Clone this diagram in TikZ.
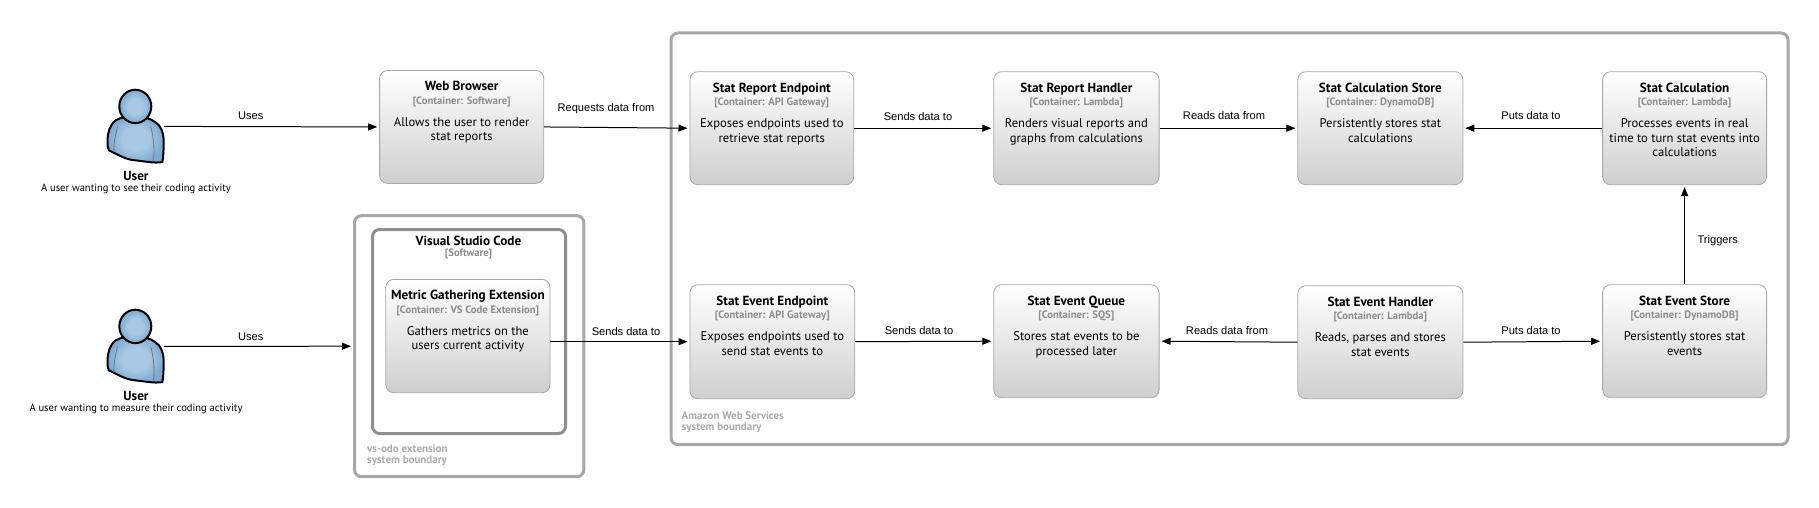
\documentclass[tikz,border=0pt]{standalone}
\usepackage{fontspec}
\setmainfont{PT Sans}
\newfontfamily\edgefont{Liberation Sans}
\usetikzlibrary{arrows.meta,shadings,calc}
\definecolor{bd}{HTML}{A8A8A8}
\definecolor{subc}{HTML}{8C8C8C}
\definecolor{inbd}{HTML}{8F8F8F}
\definecolor{boxb}{HTML}{CFCFCF}
\definecolor{bluea}{HTML}{A9C8E3}
\definecolor{blueb}{HTML}{7BA9D2}
\pgfdeclareradialshading{persona}{\pgfpoint{0bp}{0bp}}{color(0bp)=(bluea);color(12bp)=(bluea);color(25bp)=(blueb);color(50bp)=(blueb)}
\tikzset{
 x=1pt,y=-1pt,
 container/.style={draw=bd,line width=0.8pt,rounded corners=8pt,top color=white,bottom color=boxb,inner sep=0pt,shading angle=0},
 boundary/.style={draw=bd,line width=3pt,rounded corners=7pt,inner sep=0pt},
 softbox/.style={draw=inbd,line width=3pt,rounded corners=7pt,inner sep=0pt},
 conn/.style={draw=black,line width=1pt,-{Triangle[length=9pt,width=7pt]},shorten >=2pt},
 elabel/.style={inner sep=0pt,font=\edgefont\fontsize{11.1}{13}\selectfont},
 bndlabel/.style={inner sep=0pt,anchor=north west,align=left,text=black!33,font=\fontsize{11}{11.5}\selectfont\bfseries},
 plabel/.style={inner sep=0pt,font=\fontsize{13.2}{14}\selectfont\bfseries},
 psub/.style={inner sep=0pt,font=\fontsize{10.55}{11}\selectfont},
 anchorbox/.style={inner sep=0pt,minimum width=56pt,minimum height=74pt},
 persona outline/.style={draw=black,line width=2pt,shading=persona},
}
\newcommand{\cbox}[8]{%
 \pgfmathsetlengthmacro{\bw}{#4-#2}\pgfmathsetlengthmacro{\bh}{#5-#3}%
 \node[container,minimum width=\bw,minimum height=\bh,anchor=north west] (#1) at (#2,#3)
 {\parbox[t][\bh][t]{\bw}{\centering\vspace*{11pt}\fontsize{13.2}{14}\selectfont\textbf{#6}\par
  \fontsize{10.7}{13.5}\selectfont\textcolor{subc}{\textbf{#7}}\par\vspace{8pt}
  \fontsize{12.6}{14.2}\selectfont #8\par}};}
\newcommand{\person}[3]{%
 \node[anchorbox] (#1) at (#2,#3) {};
 \begin{scope}[shift={(#2,#3)}]
  \draw[persona outline] (-20,-6) .. controls (-26,-1) and (-28,6) .. (-28,14) .. controls (-28,19) and (-28,22) .. (-26.7,24)
    .. controls (-19,27) and (-12,33) .. (0,34) .. controls (10,35) and (18,37) .. (26.7,35.7) .. controls (28,30) and (28,22) .. (28,14) .. controls (28,6) and (25,-1) .. (20,-4) .. controls (10,-12) and (-10,-12) .. (-20,-6) -- cycle;
  \draw[black!55,line width=0.8pt] (-18,0) .. controls (-20,8) and (-22,16) .. (-21.7,26);
  \draw[black!55,line width=0.8pt] (15,0) .. controls (18,10) and (19,22) .. (18,34);
  \draw[persona outline] (-0.3,-20) ellipse [x radius=16,y radius=16.7];
 \end{scope}}
\begin{document}
\begin{tikzpicture}
\useasboundingbox (0,0) rectangle (1819,508);
% boundaries
\node[boundary,minimum width=1117pt,minimum height=411.6pt,anchor=north west] (aws) at (669.5,31.5) {};
\node[bndlabel] (awslabel) at (681.5,411) {Amazon Web Services\\system boundary};
\node[boundary,minimum width=229.3pt,minimum height=261pt,anchor=north west] (vsb) at (353,214.2) {};
\node[bndlabel] (vsblabel) at (367,444) {vs-odo extension\\system boundary};
\node[softbox,minimum width=193pt,minimum height=204pt,anchor=north west] (vsc) at (371,228) {};
\node[inner sep=0pt,font=\fontsize{13.2}{14}\selectfont\bfseries] (vsct) at (468.5,241) {Visual Studio Code};
\node[inner sep=0pt,text=subc,font=\fontsize{10.7}{11}\selectfont\bfseries] (vscs) at (468.5,254) {[Software]};
% containers
\cbox{web}{379.2}{70.1}{543.4}{183}{Web Browser}{[Container: Software]}{Allows the user to render\\stat reports}
\cbox{metric}{385.4}{279}{549.6}{392.3}{Metric Gathering Extension}{[Container: VS Code Extension]}{Gathers metrics on the\\users current activity}
\cbox{srep}{689.5}{71.3}{853.3}{184.3}{Stat Report Endpoint}{[Container: API Gateway]}{Exposes endpoints used to\\retrieve stat reports}
\cbox{srh}{993.3}{71.3}{1158.7}{184.3}{Stat Report Handler}{[Container: Lambda]}{Renders visual reports and\\graphs from calculations}
\cbox{scs}{1297.4}{71.3}{1462.5}{184.3}{Stat Calculation Store}{[Container: DynamoDB]}{Persistently stores stat\\calculations}
\cbox{sc}{1602.2}{71.3}{1766.2}{184.3}{Stat Calculation}{[Container: Lambda]}{Processes events in real\\time to turn stat events into\\calculations}
\cbox{seep}{689.5}{284.3}{854.4}{398.3}{Stat Event Endpoint}{[Container: API Gateway]}{Exposes endpoints used to\\send stat events to}
\cbox{seq}{993.3}{284.3}{1158.7}{397.3}{Stat Event Queue}{[Container: SQS]}{Stores stat events to be\\processed later}
\cbox{seh}{1297.4}{285.3}{1462.5}{398.3}{Stat Event Handler}{[Container: Lambda]}{Reads, parses and stores\\stat events}
\cbox{ses}{1602.2}{284.3}{1766.2}{397.3}{Stat Event Store}{[Container: DynamoDB]}{Persistently stores stat\\events}
% persons
\person{u1}{135.6}{126.4}
\person{u2}{135.6}{346.4}
\node[plabel] (u1t) at (136,175.7) {User};
\node[psub] (u1s) at (136,188.7) {A user wanting to see their coding activity};
\node[plabel] (u2t) at (136,395.7) {User};
\node[psub] (u2s) at (136,408.7) {A user wanting to measure their coding activity};
% connectors
\draw[conn] (u1.east) -- (web.west);
\draw[conn] (u2.east) -- (vsb.west);
\draw[conn] (web.east) -- (srep.west);
\draw[conn] (seep.west -| metric.east) -- (seep.west);
\draw[conn] (srep.east) -- (srh.west);
\draw[conn] (srh.east) -- (scs.west);
\draw[conn] (sc.west) -- (scs.east);
\draw[conn] (ses.north) -- (sc.south);
\draw[conn] (seep.east) -- (seq.west);
\draw[conn] (seh.west) -- (seq.east);
\draw[conn] (seh.east) -- (ses.west);
% edge labels
\node[elabel] (l1) at (250.7,116) {Uses};
\node[elabel] (l2) at (250.7,337) {Uses};
\node[elabel] (l3) at (606,109) {Requests data from};
\node[elabel] (l4) at (626,331.5) {Sends data to};
\node[elabel] (l5) at (918,117) {Sends data to};
\node[elabel] (l6) at (1224,116) {Reads data from};
\node[elabel] (l7) at (1531,116) {Puts data to};
\node[elabel] (l8) at (1717.7,241) {Triggers};
\node[elabel] (l9) at (919,331) {Sends data to};
\node[elabel] (l10) at (1227,331) {Reads data from};
\node[elabel] (l11) at (1531,331) {Puts data to};
\end{tikzpicture}
\end{document}
